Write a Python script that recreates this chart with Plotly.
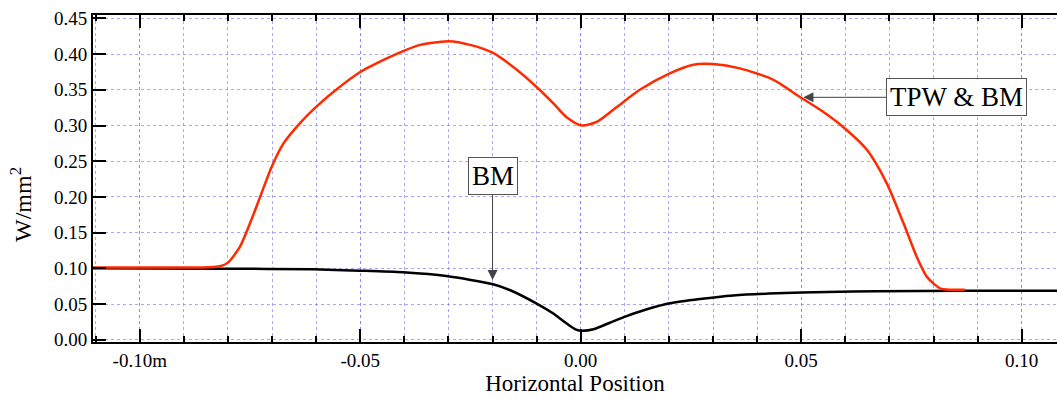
import plotly.graph_objects as go

# ---- data ----
x_tpw = [-0.1106, -0.095, -0.0863, -0.0818, -0.0800, -0.0773, -0.0750, -0.0727, -0.0701,
         -0.0674, -0.0637, -0.0600, -0.0561, -0.0500, -0.0440, -0.0400, -0.0364, -0.0320,
         -0.0300, -0.0251, -0.0200, -0.0153, -0.0100, -0.0062, -0.0032, 0.0002, 0.0036,
         0.0082, 0.0134, 0.0202, 0.0255, 0.0300, 0.0361, 0.0437, 0.0497, 0.0543, 0.0595,
         0.0649, 0.0694, 0.0732, 0.0762, 0.0785, 0.0815, 0.0840, 0.0871]
y_tpw = [0.1012, 0.1012, 0.1012, 0.103, 0.108, 0.130, 0.163, 0.200, 0.242,
         0.275, 0.303, 0.326, 0.347, 0.375, 0.394, 0.405, 0.413, 0.417,
         0.418, 0.413, 0.402, 0.382, 0.354, 0.331, 0.3115, 0.300, 0.305,
         0.326, 0.350, 0.373, 0.385, 0.386, 0.380, 0.364, 0.340, 0.322, 0.298,
         0.266, 0.219, 0.163, 0.116, 0.088, 0.072, 0.0700, 0.0700]

x_bm = [-0.1106, -0.0800, -0.0607, -0.0501, -0.0403, -0.0305, -0.0199, -0.0161, -0.0101,
        -0.0063, -0.0035, -0.0012, 0.0000, 0.0029, 0.0066, 0.0104, 0.0150, 0.0202,
        0.0270, 0.0346, 0.0444, 0.0558, 0.0671, 0.0860, 0.1105]
y_bm = [0.1000, 0.0995, 0.0986, 0.0967, 0.0944, 0.0892, 0.0776, 0.0696, 0.0510,
        0.0370, 0.0240, 0.0145, 0.0126, 0.0146, 0.0238, 0.0330, 0.0426, 0.0510,
        0.0570, 0.0620, 0.0650, 0.0668, 0.0680, 0.0686, 0.0686]

x_tick_vals = [-0.10, -0.05, 0.00, 0.05, 0.10]
x_tick_text = ["-0.10m", "-0.05", "0.00", "0.05", "0.10"]
y_tick_vals = [0.00, 0.05, 0.10, 0.15, 0.20, 0.25, 0.30, 0.35, 0.40, 0.45]

FONT = "Liberation Serif"
GRID = "rgba(120,120,255,0.65)"

fig = go.Figure()
fig.add_trace(go.Scatter(x=x_bm, y=y_bm, mode="lines",
                         line=dict(color="black", width=2.5, shape="spline", smoothing=0.7),
                         hoverinfo="skip"))
fig.add_trace(go.Scatter(x=x_tpw, y=y_tpw, mode="lines",
                         line=dict(color="#ff2a00", width=2.5, shape="spline", smoothing=0.7),
                         hoverinfo="skip"))

fig.update_xaxes(
    range=[-0.1106, 0.1080], tickvals=x_tick_vals, ticktext=x_tick_text,
    ticks="inside", ticklen=13, tickwidth=2, tickcolor="black",
    showline=True, linecolor="black", linewidth=2, mirror="ticks", zeroline=False,
    showgrid=True, gridcolor=GRID, griddash="dot", gridwidth=1,
    minor=dict(dtick=0.01, tick0=0, ticks="inside", ticklen=6, tickwidth=2,
               tickcolor="black", showgrid=True, gridcolor=GRID, griddash="dot",
               gridwidth=1),
    tickfont=dict(family=FONT, size=19, color="black"),
    title=dict(text="Horizontal Position", font=dict(family=FONT, size=23, color="black"),
               standoff=4),
    automargin=False,
)
fig.update_yaxes(
    range=[-0.0032, 0.4548], tickvals=y_tick_vals, tickformat=".2f",
    ticks="inside", ticklen=13, tickwidth=2, tickcolor="black",
    showline=True, linecolor="black", linewidth=2, mirror=False, zeroline=False,
    showgrid=True, gridcolor=GRID, griddash="dot", gridwidth=1,
    tickfont=dict(family=FONT, size=19, color="black"),
    automargin=False,
)

ann_font = dict(family=FONT, size=27, color="black")
fig.add_annotation(x=-0.02, y=0.0836, xref="x", yref="y", text="BM",
                   showarrow=True, ax=0, ay=-104, arrowhead=2, arrowsize=2,
                   arrowwidth=1, arrowcolor="#444", font=ann_font,
                   bordercolor="#555", borderwidth=1, borderpad=3, bgcolor="white")
fig.add_annotation(x=0.0505, y=0.3395, xref="x", yref="y", text="TPW &amp; BM",
                   showarrow=True, ax=153, ay=0, arrowhead=2, arrowsize=2,
                   arrowwidth=1, arrowcolor="#444", font=ann_font,
                   bordercolor="#555", borderwidth=1, borderpad=3, bgcolor="white")
fig.add_annotation(x=-0.0747, y=0.422, xref="paper", yref="paper",
                   text="W/mm<sup>2</sup>", textangle=-90, showarrow=False,
                   xanchor="center", yanchor="middle",
                   font=dict(family=FONT, size=24, color="black"))

fig.update_layout(
    width=1057, height=401,
    margin=dict(l=93, r=0, t=15, b=59),
    plot_bgcolor="white", paper_bgcolor="white",
    showlegend=False,
)

fig.write_html("out.html")
